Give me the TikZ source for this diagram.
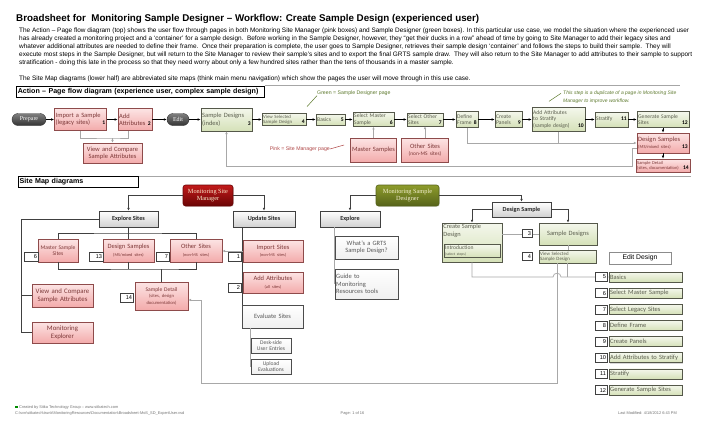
\documentclass[tikz,border=0pt]{standalone}
\usepackage{fontspec}
\setmainfont{Liberation Sans}
\newfontfamily\boxfont{Carlito}
\newfontfamily\serfont{Liberation Serif}
\usetikzlibrary{arrows.meta,shadows}

\definecolor{pinktop}{HTML}{FCE4E4}
\definecolor{pinkbot}{HTML}{F3ABAB}
\definecolor{pinkline}{HTML}{8E4B4B}
\definecolor{pinktext}{HTML}{7D3838}
\definecolor{grntop}{HTML}{F4F7EC}
\definecolor{grnbot}{HTML}{D5E1B8}
\definecolor{grnline}{HTML}{55584A}
\definecolor{grntext}{HTML}{5B5E4E}
\definecolor{grayline}{HTML}{A8A8A8}
\definecolor{mgrtop}{HTML}{C21A1A}
\definecolor{mgrbot}{HTML}{6A0505}
\definecolor{dsntop}{HTML}{8E9C2C}
\definecolor{dsnbot}{HTML}{56631A}
\definecolor{notegreen}{HTML}{5E7A2E}
\definecolor{notepink}{HTML}{B04848}

\newcommand\pn[1]{\hskip 0pt plus 1fill{\color{black}\bfseries\fontsize{5.6}{6}\selectfont #1}}

\tikzset{
  fsix/.style={font=\boxfont\fontsize{6.5}{7.4}\selectfont},
  ffive/.style={font=\boxfont\fontsize{5.6}{6.5}\selectfont},
  ffour/.style={font=\boxfont\fontsize{4.8}{5.5}\selectfont},
  pagebox/.style={line width=.7pt, inner sep=1.2pt,
    drop shadow={shadow xshift=.7pt, shadow yshift=-.7pt, opacity=.3}},
  sdpage/.style={pagebox, draw=grnline, top color=grntop, bottom color=grnbot, text=grntext, align=left},
  smpage/.style={pagebox, draw=pinkline, top color=pinktop, bottom color=pinkbot, text=pinktext, align=center},
  navbox/.style={pagebox, draw=black!75, top color=white, bottom color=black!18, text=black!85,
    font=\boxfont\bfseries\fontsize{6.2}{7}\selectfont, minimum height=16pt},
  plainbox/.style={pagebox, draw=black!70, top color=white, bottom color=black!6, text=black!65, align=center},
  pill/.style={rounded corners=6pt, draw=black!80, top color=black!50, bottom color=black!80, text=white,
    font=\serfont\fontsize{6}{7}\selectfont, minimum height=12pt, inner sep=1pt},
  sitebox/.style={rounded corners=2.5pt, draw=#1, line width=.6pt, align=center,
    font=\serfont\fontsize{6.3}{7.4}\selectfont, minimum height=21pt,
    drop shadow={shadow xshift=.7pt, shadow yshift=-.7pt, opacity=.3}},
  nbox/.style={draw=black!75, fill=white, line width=.5pt, inner sep=1pt, minimum height=9pt,
    align=right, font=\fontsize{5.6}{6}\selectfont},
  lbl/.style={anchor=north west, align=left, inner sep=1.5pt, text=grntext,
    font=\boxfont\fontsize{6.4}{7.4}\selectfont},
  hdr/.style={anchor=west, draw=black, line width=.5pt, fill=white, inner sep=1.5pt, minimum height=11pt,
    align=left, font=\bfseries\fontsize{7.1}{8}\selectfont},
  ttl/.style={anchor=west, inner sep=0pt, font=\bfseries\fontsize{9.8}{11}\selectfont},
  para/.style={anchor=north west, align=left, inner sep=0pt, font=\fontsize{6.45}{8}\selectfont},
  rulebar/.style={draw=black!35, line width=.6pt},
  notetext/.style={font=\fontsize{5.2}{6.6}\selectfont, align=left, inner sep=0pt},
  foot/.style={font=\fontsize{3.9}{4.6}\selectfont, text=black!55, inner sep=0pt},
  flowarr/.style={line width=.6pt, -{Latex[length=3pt,width=2.6pt]}},
  backline/.style={draw=grayline, line width=.7pt},
  backarr/.style={backline, -{Latex[length=2.8pt,width=2.6pt]}},
  treeline/.style={draw=black!75, line width=.7pt},
  treearr/.style={treeline, -{Latex[length=2.8pt,width=2.6pt]}},
}

\begin{document}
\begin{tikzpicture}[x=1pt,y=-1pt]
  \fill[white] (0,0) rectangle (706,428);
  \useasboundingbox (0,0) rectangle (706,428);

  \node[ttl] (title) at (16,19) {Broadsheet for\ \ Monitoring Sample Designer – Workflow: Create Sample Design (experienced user)};
  \node[para] (intro) at (19,28) {The Action – Page flow diagram (top) shows the user flow through pages in both Monitoring Site Manager (pink boxes) and Sample Designer (green boxes). In this particular use case, we model the situation where the experienced user\\
    has already created a monitoring project and a ‘container’ for a sample design.\ \ Before working in the Sample Designer, however, they “get their ducks in a row” ahead of time by going to Site Manager to add their legacy sites and\\
    whatever additional attributes are needed to define their frame.\ \ Once their preparation is complete, the user goes to Sample Designer, retrieves their sample design ‘container’ and follows the steps to build their sample.\ \ They will\\
    execute most steps in the Sample Designer, but will return to the Site Manager to review their sample’s sites and to export the final GRTS sample draw.\ \ They will also return to the Site Manager to add attributes to their sample to support\\
    stratification - doing this late in the process so that they need worry about only a few hundred sites rather than the tens of thousands in a master sample.\\[8pt]
    The Site Map diagrams (lower half) are abbreviated site maps (think main menu navigation) which show the pages the user will move through in this use case.};

  \node[hdr, text width=245pt] (flowhd) at (16,91.5) {Action – Page flow diagram (experience user, complex sample design)};
  \draw[rulebar] (flowhd.north east) -- ++(415,0);

  \node[pill, minimum width=34pt] (prepare) at (29,119.5) {Prepare};
  \node[smpage, fsix, align=left, text width=49.6pt, minimum height=22pt] (import) at (80.5,119.5) {Import a Sample\\(legacy sites)\pn{1}};
  \node[smpage, fsix, align=left, text width=31.6pt, minimum height=22pt] (attr) at (135,119.5) {Add\\Attributes\pn{2}};
  \node[pill, minimum width=22pt] (edit) at (178,119.5) {Edit};
  \node[sdpage, fsix, text width=48.6pt, minimum height=23pt] (sdidx) at (226.5,119.5) {Sample Designs\\(index)\pn{3}};
  \node[sdpage, ffour, text width=41.6pt, minimum height=12pt] (viewsel) at (284,119.5) {View Selected\\Sample Design\pn{4}};
  \node[sdpage, ffive, text width=26.6pt, minimum height=11pt] (basics) at (330.5,119.5) {Basics\pn{5}};
  \node[sdpage, ffive, text width=38.6pt, minimum height=13pt] (selms) at (373.5,119.5) {Select Master\\Sample\pn{6}};
  \node[sdpage, ffive, text width=33.6pt, minimum height=13pt] (selos) at (425,119.5) {Select Other\\Sites\pn{7}};
  \node[sdpage, ffive, text width=19.6pt, minimum height=16pt] (frame) at (467,119.5) {Define\\Frame\pn{8}};
  \node[sdpage, ffive, text width=24.6pt, minimum height=16pt] (panels) at (508.5,119.5) {Create\\Panels\pn{9}};
  \node[sdpage, ffive, text width=50.6pt, minimum height=24pt] (addstr) at (558.5,119.5) {Add Attributes\\to Stratify\\(sample design)\pn{10}};
  \node[sdpage, ffive, text width=30.6pt, minimum height=15pt] (strat) at (611.5,119.5) {Stratify\pn{11}};
  \node[sdpage, ffive, text width=49.6pt, minimum height=16pt] (gensites) at (663,119.5) {Generate Sample\\Sites\pn{12}};
  \node[smpage, fsix, align=left, text width=49.6pt, minimum height=20pt] (dsamp) at (663,143) {Design Samples\\{\fontsize{4.6}{5.2}\selectfont(MS/mixed sites)}\pn{13}};
  \node[smpage, font=\boxfont\fontsize{4.5}{5.3}\selectfont, align=left, text width=51.6pt, minimum height=13pt] (sdetail) at (663,165.5) {Sample Detail\\(sites, documentation)\pn{14}};
  \node[smpage, fsix, text width=56.6pt, minimum height=20pt] (vcomp) at (112.5,153) {View and Compare\\Sample Attributes};
  \node[smpage, fsix, text width=44pt, minimum height=24pt] (mastsamp) at (373.5,150) {Master Samples};
  \node[smpage, fsix, text width=44pt, minimum height=24pt] (othsamp) at (425,150) {Other Sites\\{\fontsize{5.4}{6.2}\selectfont(non-MS sites)}};
  \coordinate (vcjoin) at (112.5,138);

  \node[notetext, text=notegreen, anchor=west] (gnote) at (317,93) {Green = Sample Designer page};
  \node[notetext, text=notepink, anchor=east] (pnote) at (330,149) {Pink = Site Manager page};
  \node[notetext, text=notegreen, anchor=north west, font=\itshape\fontsize{5}{7.6}\selectfont] (dnote) at (563,91) {This step is a duplicate of a page in Monitoring Site\\Manager to improve workflow.};
  \draw[notegreen, line width=.5pt] (gnote.south west) -- ++(-10,11);
  \draw[notepink, line width=.5pt] (pnote.east) -- ++(14,-4);
  \draw[notegreen, line width=.5pt] ([shift={(-2,-4)}]dnote.west) -- ++(-12,8);

  \begin{scope}[flowarr]
    \draw (prepare) to (import);
    \draw (import) to (attr);
    \draw (attr) to (edit);
    \draw (edit) to (sdidx);
    \draw (sdidx) to (viewsel);
    \draw (viewsel) to (basics);
    \draw (basics) to (selms);
    \draw (selms) to (selos);
    \draw (selos) to (frame);
    \draw (frame) to (panels);
    \draw (panels) to (addstr);
    \draw (addstr) to (strat);
    \draw (strat) to (gensites);
    \draw (gensites) to (dsamp);
    \draw (dsamp) to (sdetail);
  \end{scope}
  \begin{scope}[backline]
    \draw (import.south) |- (vcjoin) -| ([xshift=-7pt]attr.south);
    \draw[backarr] (vcjoin) -- (vcomp.north);
    \draw[backarr] (mastsamp) to (selms);
    \draw[backarr] (othsamp) to (selos);
    \draw[backarr] (frame.south) |- (dsamp.west);
    \draw (addstr.south) -- (addstr.south |- dsamp.west);
    \draw[backarr] ([yshift=-5pt]dsamp.west) -| (632,166) -| (sdidx.south);
  \end{scope}

  \node[hdr, text width=117pt] (maphd) at (18,182) {Site Map diagrams};
  \draw[rulebar] (maphd.north east) -- ++(552,0);

  \node[sitebox=mgrbot, top color=mgrtop, bottom color=mgrbot, text={rgb,255:red,250;green,238;blue,205}, minimum width=50pt] (msm) at (208,195.5) {Monitoring Site\\Manager};
  \node[sitebox=dsnbot, top color=dsntop, bottom color=dsnbot, text={rgb,255:red,245;green,240;blue,210}, minimum width=63pt] (msd) at (407.5,195.5) {Monitoring Sample\\Designer};

  \node[navbox, minimum width=59pt] (expsites) at (128.5,219) {Explore Sites};
  \node[navbox, minimum width=62pt] (updsites) at (264,219) {Update Sites};
  \node[navbox, minimum width=60pt] (explore) at (350,219) {Explore};
  \node[navbox, minimum width=59pt, minimum height=15pt] (dsgnsamp) at (521.5,209.5) {Design Sample};

  \node[smpage, ffive, text width=37.6pt, minimum height=23pt] (mastsites) at (58,250.5) {Master Sample\\Sites};
  \node[smpage, fsix, text width=48.6pt, minimum height=23pt] (dsgnsites) at (128.5,250.5) {Design Samples\\{\fontsize{4.3}{5}\selectfont(MS/mixed sites)}};
  \node[smpage, fsix, text width=49.6pt, minimum height=23pt] (othsites) at (196,250.5) {Other Sites\\{\fontsize{4.3}{5}\selectfont(non-MS sites)}};
  \node[smpage, ffive, text width=50.6pt, minimum height=28pt] (detail) at (161.5,296) {Sample Detail\\{\fontsize{4.6}{5.8}\selectfont(sites, design}\\{\fontsize{4.6}{5.8}\selectfont documentation)}};
  \node[smpage, font=\boxfont\fontsize{6.8}{8}\selectfont, text width=58.6pt, minimum height=23pt] (compare) at (62.5,295.5) {View and Compare\\Sample Attributes};
  \node[smpage, font=\boxfont\fontsize{6.8}{8}\selectfont, text width=58.6pt, minimum height=21pt] (explorer) at (62.5,332.5) {Monitoring\\Explorer};
  \node[smpage, fsix, text width=57.6pt, minimum height=22pt] (impsites) at (273,251) {Import Sites\\{\fontsize{4.3}{5}\selectfont(non-MS sites)}};
  \node[smpage, fsix, text width=57.6pt, minimum height=21pt] (addattr) at (273,282.5) {Add Attributes\\{\fontsize{4.3}{5}\selectfont(all sites)}};
  \node[plainbox, fsix, text width=58.6pt, minimum height=23pt] (evalsites) at (272.5,316.5) {Evaluate Sites};
  \node[plainbox, ffive, text width=37.6pt, minimum height=15pt] (deskside) at (271,345.5) {Desk-side\\User Entries};
  \node[plainbox, ffive, text width=37.6pt, minimum height=15pt] (upload) at (271,366.5) {Upload\\Evaluations};
  \node[plainbox, fsix, text width=60.6pt, minimum height=23pt] (grts) at (366.5,247.5) {What’s a GRTS\\Sample Design?};
  \node[plainbox, fsix, align=left, text width=60.6pt, minimum height=30pt] (guide) at (366.5,284) {Guide to\\Monitoring\\Resources tools};

  \node[sdpage, minimum width=60pt, minimum height=39pt, label={[lbl]north west:{Create Sample\\Design}}] (csd) at (472,242.5) {};
  \node[sdpage, ffive, line width=.5pt, text width=53.6pt, minimum height=13pt] (introstep) at (472,251) {Introduction\\{\fontsize{3.7}{4.3}\selectfont(select steps)}};
  \node[sdpage, fsix, align=center, text width=55.6pt, minimum height=22pt] (sdesigns) at (568,234) {Sample Designs};
  \node[sdpage, font=\boxfont\fontsize{4.9}{5.5}\selectfont, text width=54.6pt, minimum height=13pt] (vselected) at (567.5,256.5) {View Selected\\Sample Design};

  \node[draw=black!45, line width=.4pt, fill=white, minimum width=62pt, minimum height=12pt, inner sep=1pt, font=\fontsize{6.8}{7.5}\selectfont] (edithd) at (640,258) {Edit Design};
  \node[sdpage, fsix, text width=70.6pt, minimum height=10pt] (edbas) at (645.5,277) {Basics};
  \node[sdpage, fsix, text width=70.6pt, minimum height=10pt] (edms) at (645.5,293.2) {Select Master Sample};
  \node[sdpage, fsix, text width=70.6pt, minimum height=10pt] (edls) at (645.5,309.3) {Select Legacy Sites};
  \node[sdpage, fsix, text width=70.6pt, minimum height=10pt] (edfr) at (645.5,325.5) {Define Frame};
  \node[sdpage, fsix, text width=70.6pt, minimum height=10pt] (edpn) at (645.5,341.6) {Create Panels};
  \node[sdpage, fsix, text width=70.6pt, minimum height=10pt] (edat) at (645.5,357.8) {Add Attributes to Stratify};
  \node[sdpage, fsix, text width=70.6pt, minimum height=10pt] (edst) at (645.5,373.9) {Stratify};
  \node[sdpage, fsix, text width=70.6pt, minimum height=10pt] (edgen) at (645.5,390.1) {Generate Sample Sites};

  \coordinate (split1) at (128.5,233);
  \coordinate (join1) at (161.5,269);
  \coordinate (leftbot) at (21,332.5);
  \coordinate (loopA) at (201,383);
  \coordinate (hopL) at (553,277);
  \coordinate (hopR) at (561,277);

  \begin{scope}[treeline]
    \draw[treearr] (msm.west) -| (expsites.north);
    \draw[treearr] (msm.east) -| (updsites.north);
    \draw[treearr] (msd.west) -| (explore.north);
    \draw[treearr] (msd.east) -| (dsgnsamp.north);
    \draw[treearr] (dsgnsamp.west) -| (csd.north);
    \draw[treearr] (dsgnsamp.east) -| (sdesigns.north);
    \draw (expsites.south) -- (split1);
    \draw (mastsites.north) |- (split1) -| (othsites.north);
    \draw (dsgnsites.north) -- (split1);
    \draw (mastsites.south) |- (join1) -| (othsites.south);
    \draw (dsgnsites.south) -- (dsgnsites.south |- join1);
    \draw[line width=1.1pt] (join1) -- (detail.north);
    \draw (expsites.west) -| (leftbot) -- (explorer.west);
    \draw (compare.west) -- (compare.west -| leftbot);
    \draw (updsites.south -| impsites.west) -- (evalsites.north -| impsites.west);
  \end{scope}
  \begin{scope}[backline]
    \draw[backarr] (impsites.west) -- (impsites.west -| othsites.east);
    \draw (evalsites.south -| deskside.west) -- (upload.west);
    \draw (explore.south -| grts.west) -- (guide.west);
    \draw (csd.east |- sdesigns.west) -- (sdesigns.west);
    \draw (sdesigns.south) -- (sdesigns.south |- vselected.north);
    \draw (vselected.south) -- (vselected.south |- hopR);
    \draw (csd.south) |- (hopL) .. controls (553,272) and (561,272) .. (hopR) -- (edbas.west);
    \draw[backarr] ([xshift=-10.5pt]vselected.south) |- (loopA) |- ([yshift=-4pt]detail.east);
  \end{scope}

  \node[nbox, text width=12pt] (n6) at (31,256.5) {6};
  \node[nbox, text width=12pt] (n13) at (96,256.5) {13};
  \node[nbox, text width=11pt] (n7) at (162.5,256.5) {7};
  \node[nbox, text width=11pt] (n14) at (126.5,297.5) {14};
  \node[nbox, text width=11pt] (n1) at (234.5,256.5) {1};
  \node[nbox, text width=11pt] (n2) at (234.5,287.5) {2};
  \node[nbox, text width=8pt, minimum height=8pt] (n3) at (527,233.5) {3};
  \node[nbox, text width=8pt, minimum height=8pt] (n4) at (527,256.5) {4};
  \node[nbox, text width=10pt] (en5) at (601,277) {5};
  \node[nbox, text width=10pt] (en6) at (601,293.2) {6};
  \node[nbox, text width=10pt] (en7) at (601,309.3) {7};
  \node[nbox, text width=10pt] (en8) at (601,325.5) {8};
  \node[nbox, text width=10pt] (en9) at (601,341.6) {9};
  \node[nbox, text width=10pt] (en10) at (601,357.8) {10};
  \node[nbox, text width=10pt] (en11) at (601,373.9) {11};
  \node[nbox, text width=10pt] (en12) at (601,390.1) {12};

  \node[fill=green!55!black, minimum size=2.6pt, inner sep=0pt] (logo) at (16.5,407) {};
  \node[foot, anchor=west] (credit) at ([xshift=1pt]logo.east) {Created by Sitka Technology Group – www.sitkatech.com};
  \node[foot, anchor=west] (vsdpath) at (15,413) {C:\textbackslash svn\textbackslash sitkatech\textbackslash trunk\textbackslash MonitoringResources\textbackslash Documentation\textbackslash Broadsheet-MoS\_SD\_ExpertUser.vsd};
  \node[foot] (pagenum) at (352.5,413) {Page: 1 of 16};
  \node[foot, anchor=east] (lastmod) at (677,413) {Last Modified: 4/18/2012 6:43 PM};
\end{tikzpicture}
\end{document}
